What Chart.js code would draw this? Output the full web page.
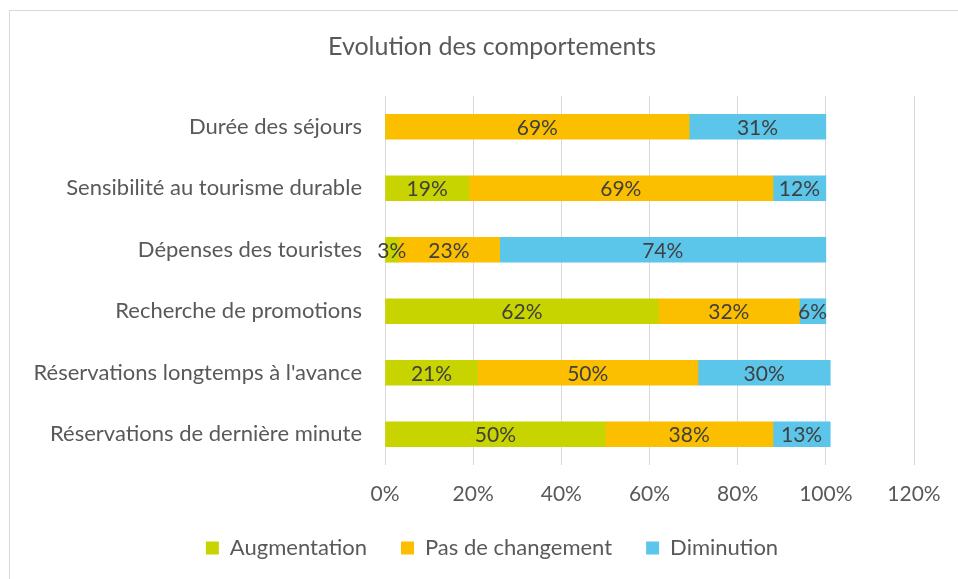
<!DOCTYPE html>
<html>
<head>
<meta charset="utf-8">
<script src="https://cdn.jsdelivr.net/npm/chart.js@4"></script>
<style>
    html, body { margin: 0; padding: 0; background: #fff; overflow: hidden; width: 958px; height: 579px; }
    #frame {
        position: absolute; left: 9px; top: 10px; width: 1200px; height: 800px;
        border: 1px solid #d9d9d9;
    }
    #wrap { position: absolute; left: 0; top: 0; width: 958px; height: 569px; }
</style>
</head>
<body>
<div id="frame"></div>
<div id="wrap"><canvas id="chart"></canvas></div>
<script>
// --- Daten ---
const categories = [
    'Durée des séjours',
    'Sensibilité au tourisme durable',
    'Dépenses des touristes',
    'Recherche de promotions',
    "Réservations longtemps à l'avance",
    'Réservations de dernière minute'
];
const augmentation = [0, 19, 3, 62, 21, 50];
const pasDeChangement = [69, 69, 23, 32, 50, 38];
const diminution = [31, 12, 74, 6, 30, 13];
const xTicks = [0, 20, 40, 60, 80, 100, 120];

const FONT = 'Lato, "Open Sans", sans-serif';

// --- Beschriftungen in den Balken ---
const barLabels = {
    id: 'barLabels',
    afterDatasetsDraw(chart) {
        const ctx = chart.ctx;
        ctx.save();
        ctx.font = '21px ' + FONT;
        ctx.fillStyle = '#404040';
        ctx.textAlign = 'center';
        ctx.textBaseline = 'middle';
        chart.data.datasets.forEach((ds, i) => {
            const meta = chart.getDatasetMeta(i);
            meta.data.forEach((bar, j) => {
                const v = ds.data[j];
                if (!v) return;
                const cx = (bar.x + bar.base) / 2;
                ctx.fillText(v + '%', cx, bar.y + 1);
            });
        });
        ctx.restore();
    }
};

// --- Kategorien links neben der Achse (ohne Clipping der Skala) ---
const categoryLabels = {
    id: 'categoryLabels',
    afterDraw(chart) {
        const ctx = chart.ctx;
        const yScale = chart.scales.y;
        ctx.save();
        ctx.font = '22px ' + FONT;
        ctx.fillStyle = '#595959';
        ctx.textAlign = 'right';
        ctx.textBaseline = 'middle';
        chart.data.labels.forEach((lbl, i) => {
            ctx.fillText(lbl, chart.chartArea.left - 23, yScale.getPixelForTick(i));
        });
        ctx.restore();
    }
};

new Chart(document.getElementById('chart'), {
    type: 'bar',
    data: {
        labels: categories,
        datasets: [
            { label: 'Augmentation', data: augmentation, backgroundColor: '#C8D400' },
            { label: 'Pas de changement', data: pasDeChangement, backgroundColor: '#FBBF00' },
            { label: 'Diminution', data: diminution, backgroundColor: '#5BC5EA' }
        ]
    },
    options: {
        indexAxis: 'y',
        responsive: true,
        maintainAspectRatio: false,
        animation: false,
        barThickness: 25,
        // links mehr Platz, damit Titel und Legende mittig sitzen
        layout: { padding: { left: 70, right: 44, top: 0, bottom: 0 } },
        scales: {
            x: {
                stacked: true,
                min: 0,
                max: 120,
                afterBuildTicks: (scale) => { scale.ticks = xTicks.map(v => ({ value: v })); },
                grid: { color: '#d9d9d9', drawTicks: false },
                border: { display: false },
                ticks: {
                    padding: 17,
                    color: '#595959',
                    font: { family: FONT, size: 21 },
                    callback: (v) => v + '%'
                },
                afterFit: (scale) => { scale.height = 38; }
            },
            y: {
                stacked: true,
                grid: { display: false, drawTicks: false },
                border: { display: false },
                ticks: { display: false },
                afterFit: (scale) => { scale.width = 315; }
            }
        },
        plugins: {
            title: {
                display: true,
                text: 'Evolution des comportements',
                color: '#595959',
                font: { family: FONT, size: 25, weight: 'normal' },
                padding: { top: 32, bottom: 34 }
            },
            legend: {
                position: 'bottom',
                labels: {
                    color: '#595959',
                    font: { family: FONT, size: 22 },
                    boxWidth: 13,
                    boxHeight: 13,
                    padding: 34
                }
            },
            tooltip: { enabled: false }
        }
    },
    plugins: [barLabels, categoryLabels]
});
</script>
</body>
</html>
